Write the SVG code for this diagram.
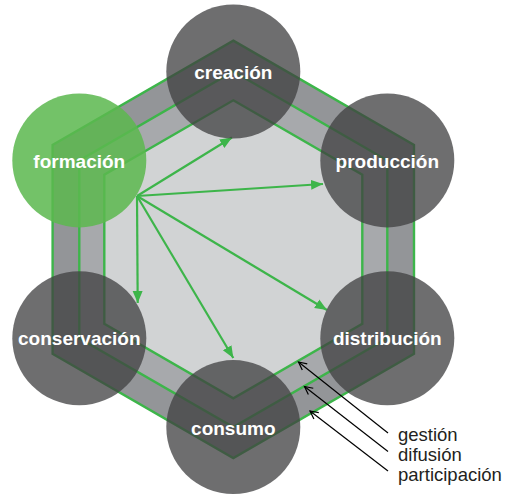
<svg xmlns="http://www.w3.org/2000/svg" width="510" height="498" viewBox="0 0 510 498">
<style>
.hexline{fill:none;stroke:#3db54a;stroke-width:2.4;stroke-linejoin:miter}
.arr{fill:none;stroke:#3db54a;stroke-width:2.2;marker-end:url(#ga)}
.node{fill:#414042;fill-opacity:0.76}
.lbl{font-family:"Liberation Sans",Arial,sans-serif;font-weight:bold;font-size:19px;fill:#ffffff;text-anchor:middle}
.leg{font-family:"Liberation Sans",Arial,sans-serif;font-size:18.5px;fill:#231f20}
.ptr{fill:none;stroke:#000;stroke-width:1.2;marker-end:url(#oa)}
</style>
<defs>
<marker id="ga" markerUnits="userSpaceOnUse" markerWidth="14" markerHeight="12" refX="12" refY="5" orient="auto" viewBox="0 0 14 10">
<path d="M0,0 L12,5 L0,10 Z" fill="#3db54a"/>
</marker>
<marker id="oa" markerUnits="userSpaceOnUse" markerWidth="12" markerHeight="12" refX="9" refY="5" orient="auto" viewBox="0 0 12 10">
<path d="M1,1 L9,5 L1,9" fill="none" stroke="#000" stroke-width="1.2"/>
</marker>
</defs>
<g id="hexagon">
<polygon points="233.3,40.6 414,145 414,353.7 233.3,458 52.6,353.7 52.6,145" fill="#939598"/>
<polygon points="233.3,71.5 387.3,160.4 387.3,338.2 233.3,427.1 79.3,338.2 79.3,160.4" fill="#a7a9ac"/>
<polygon points="233.3,100.3 362.3,174.8 362.3,323.8 233.3,398.3 104.3,323.8 104.3,174.8" fill="#d1d3d4"/>
<polygon class="hexline" points="233.3,40.6 414,145 414,353.7 233.3,458 52.6,353.7 52.6,145"/>
<polygon class="hexline" points="233.3,71.5 387.3,160.4 387.3,338.2 233.3,427.1 79.3,338.2 79.3,160.4"/>
<polygon class="hexline" points="233.3,100.3 362.3,174.8 362.3,323.8 233.3,398.3 104.3,323.8 104.3,174.8"/>
</g>
<g id="connectors">
<line class="arr" x1="137" y1="196" x2="232" y2="137.5"/>
<line class="arr" x1="137" y1="196" x2="323" y2="184"/>
<line class="arr" x1="137" y1="196" x2="137.7" y2="303"/>
<line class="arr" x1="137" y1="196" x2="233.3" y2="358"/>
<line class="arr" x1="137" y1="196" x2="327" y2="310"/>
<line class="ptr" x1="388" y1="433" x2="298.5" y2="362"/>
<line class="ptr" x1="388" y1="451.5" x2="304.5" y2="386.5"/>
<line class="ptr" x1="388" y1="471" x2="310" y2="411"/>
</g>
<g id="creacion"><circle class="node" cx="233.3" cy="71.5" r="67"/><text class="lbl" x="233.3" y="79">creación</text></g>
<g id="produccion"><circle class="node" cx="387.3" cy="160.4" r="67"/><text class="lbl" x="387.3" y="167.5">producción</text></g>
<g id="distribucion"><circle class="node" cx="387.3" cy="338.2" r="67"/><text class="lbl" x="387.3" y="345.3">distribución</text></g>
<g id="consumo"><circle class="node" cx="233.3" cy="427.1" r="67"/><text class="lbl" x="233.3" y="434.5">consumo</text></g>
<g id="conservacion"><circle class="node" cx="79.3" cy="338.2" r="67"/><text class="lbl" x="79.3" y="345.3">conservación</text></g>
<g id="formacion"><circle cx="79.3" cy="160.4" r="67" fill="#5cb84f" fill-opacity="0.86"/><text class="lbl" x="79.3" y="167.5">formación</text></g>
<g id="legend">
<text class="leg" x="398" y="440.5">gestión</text>
<text class="leg" x="398" y="461">difusión</text>
<text class="leg" x="398" y="480.5">participación</text>
</g>
</svg>
